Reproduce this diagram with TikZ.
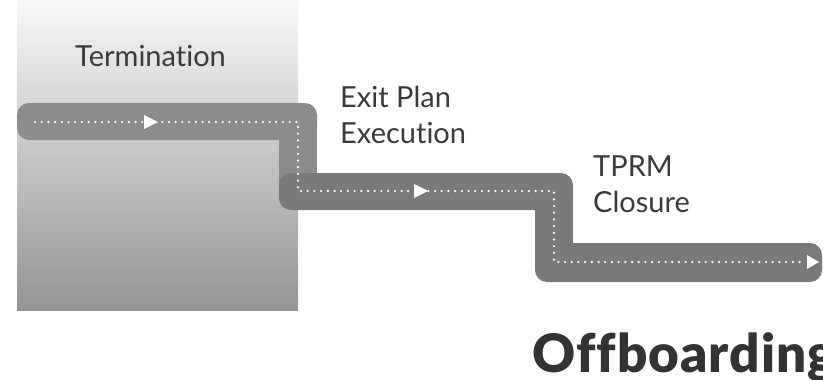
\documentclass[tikz,border=0pt]{standalone}
\usepackage{fontspec}
\setmainfont{Lato}[Ligatures=NoCommon]
\newfontfamily\heavyfont{Lato Black}[Ligatures=NoCommon,LetterSpace=2]
\definecolor{roadA}{HTML}{8C8C8C}
\definecolor{roadB}{HTML}{7A7A7A}
\definecolor{txt}{HTML}{3A3A3A}
\begin{document}
\begin{tikzpicture}[x=1pt,y=-1pt,
  lbl/.style={anchor=base west,text=txt,font=\fontsize{29}{36}\selectfont,inner sep=0pt,align=left},
  dots/.style={white,line width=2.5,dash pattern=on 0pt off 6.7pt,line cap=round},
  tri/.style={fill=white,draw=none}]
\useasboundingbox (0,0) rectangle (823,380);
\clip (0,0) rectangle (823,380);
% gradient panel
\shade[top color=white!97!black,bottom color=black!42] (17,0) rectangle (298,310);
% road segment 1
\fill[roadA,rounded corners=12] (17,103) rectangle (317,140);
\fill[roadA] (279,122) rectangle (317,200);
% road segment 2
\fill[roadB,rounded corners=12] (279,173) rectangle (573,210);
\fill[roadB] (535,191) rectangle (573,260);
% road segment 3
\fill[roadB,rounded corners=12] (535,243) rectangle (822,282);
% dotted centre lines
\coordinate (s1) at (35,122);
\coordinate (c1) at (298,122);
\coordinate (c2) at (298,191);
\coordinate (c3) at (554,191);
\coordinate (c4) at (554,262);
\coordinate (e3) at (806,262);
\draw[dots] (s1) -- (c1) -- (c2) -- (c3) -- (c4) -- (e3);
% arrows
\coordinate (a1) at (144,122);
\coordinate (a2) at (414,191);
\coordinate (a3) at (807,262);
\fill[tri] (a1) ++(0,-7) -- ++(14,7) -- ++(-14,7) -- cycle;
\fill[tri] (a2) ++(0,-7) -- ++(14,7) -- ++(-14,7) -- cycle;
\fill[tri] (a3) ++(0,-7) -- ++(12,7) -- ++(-12,7) -- cycle;
% labels
\node[lbl] (term) at (75,66) {Termination};
\node[lbl] (exit1) at (340,107) {Exit Plan};
\node[lbl] (exit2) at (340,143) {Execution};
\node[lbl] (tprm1) at (593,176) {TPRM};
\node[lbl] (tprm2) at (593,212) {Closure};
\node[anchor=base west,inner sep=0pt,text=black!80,font=\heavyfont\fontsize{53}{60}\selectfont] (off) at (532,372) {Offboarding};
\end{tikzpicture}
\end{document}
